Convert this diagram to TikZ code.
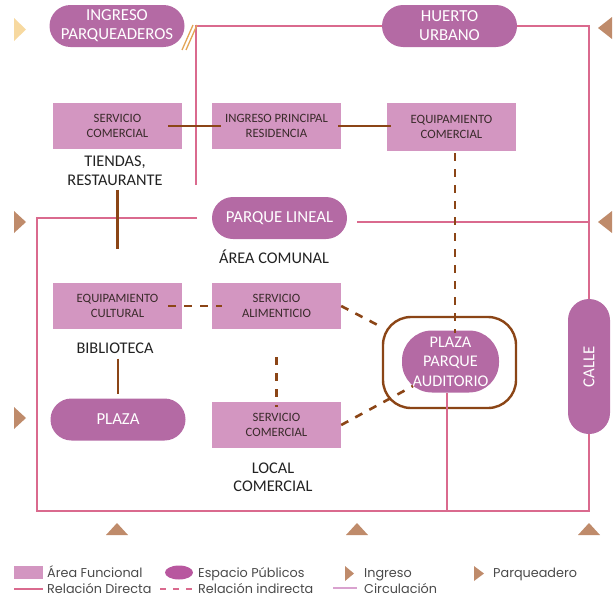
\documentclass[tikz,border=0pt]{standalone}
\usepackage{fontspec}
\setmainfont{Carlito}
\newfontfamily\legfont{Poppins}
\usetikzlibrary{calc}
\definecolor{boxpink}{HTML}{D396C1}
\definecolor{cap}{HTML}{B46AA4}
\definecolor{legcap}{HTML}{B8579F}
\definecolor{circpink}{HTML}{DA6A8E}
\definecolor{rbrown}{HTML}{8B4516}
\definecolor{tan}{HTML}{BF8B6B}
\definecolor{ingyellow}{HTML}{F7D9A0}
\definecolor{slash}{HTML}{E2A555}
\definecolor{lilac}{HTML}{D9A2CF}
\definecolor{boxtext}{HTML}{3A2B2B}
\definecolor{lbltext}{HTML}{222222}
\definecolor{legtext}{HTML}{4A4A4A}
\begin{document}
\begin{tikzpicture}[x=1pt,y=-1pt,
  area/.style={rectangle, fill=boxpink, minimum width=129pt, minimum height=46pt, inner sep=0pt, align=center, text=boxtext, font=\fontsize{12.7}{15}\selectfont},
  esp/.style={rectangle, rounded corners=21pt, fill=cap, minimum width=135pt, minimum height=42pt, inner sep=0pt, align=center, text=white, font=\fontsize{16.8}{19}\selectfont},
  lbl/.style={align=center, inner sep=0pt, text=lbltext, font=\fontsize{16.3}{18.5}\selectfont},
  circ/.style={draw=circpink, line width=2pt},
  direct/.style={draw=rbrown, line width=2.6pt},
  indirect/.style={draw=rbrown, line width=2.6pt, dash pattern=on 8pt off 8pt},
  legtxt/.style={anchor=base west, inner sep=0pt, text=legtext, font=\legfont\fontsize{12.8}{14}\selectfont},
  tri/.style={fill=tan}
]
\useasboundingbox (0,0) rectangle (615,597);

% ---------- nodes ----------
\node[esp] (ingp) at (117,26) {INGRESO\\PARQUEADEROS};
\node[esp] (huerto) at (449.5,26) {HUERTO\\URBANO};
\node[esp] (plineal) at (279.5,218) {PARQUE LINEAL};
\node[esp] (plaza) at (118,419.5) {PLAZA};
\node[esp, minimum width=42pt, minimum height=135pt] (calle) at (589,366.5) {\rotatebox{90}{CALLE}};

\node[area] (sc1) at (117.5,126) {SERVICIO\\COMERCIAL};
\node[area] (ing) at (276.5,126) {INGRESO PRINCIPAL\\RESIDENCIA};
\node[area, minimum height=48pt] (eqc) at (451.5,127) {EQUIPAMIENTO\\COMERCIAL};
\node[area] (eqcul) at (117.5,306) {EQUIPAMIENTO\\CULTURAL};
\node[area] (sa) at (276.5,306) {SERVICIO\\ALIMENTICIO};
\node[area] (sc2) at (276.5,425) {SERVICIO\\COMERCIAL};

\node[lbl] (tiendas) at (115,171) {TIENDAS,\\RESTAURANTE};
\node[lbl] (acom) at (274,257) {ÁREA COMUNAL};
\node[lbl] (bib) at (115,348) {BIBLIOTECA};
\node[lbl] (local) at (273,477.5) {LOCAL\\COMERCIAL};

\node[draw=rbrown, line width=2.4pt, rounded corners=28pt, minimum width=133pt, minimum height=91pt, inner sep=0pt] (frame) at (449.5,362.5) {};
\node[rectangle, rounded corners=30pt, fill=cap, minimum width=97pt, minimum height=62pt, inner sep=0pt, align=center, text=white, font=\fontsize{16.3}{19.5}\selectfont] (ppa) at (450.5,361.5) {PLAZA\\PARQUE\\AUDITORIO};

% ---------- circulation ----------
\coordinate (c1) at (196,185);
\coordinate (c2) at (196,26);
\coordinate (c3) at (589,26);
\coordinate (l1) at (197,218);
\coordinate (l2) at (37,218);
\coordinate (l3) at (37,511);
\coordinate (l4) at (589,511);
\coordinate (l5) at (447,511);
\coordinate (r1) at (357,222);
\coordinate (r2) at (589,222);
\draw[circ] (c1) -- (c2) -- (huerto.west);
\draw[circ] (huerto.east) -- (c3) -- (calle.north);
\draw[circ] (l1) -- (l2) -- (l3) -- (l4) -- (calle.south);
\draw[circ] (l5) -- (l5 |- ppa.south);
\draw[circ] (r1) -- (r2);

% ---------- slashes ----------
\draw[slash, line width=1.3pt] (182,50) -- (193,25);
\draw[slash, line width=1.3pt] (186,50) -- (197,25);

% ---------- direct relations ----------
\draw[direct, shorten <=-14pt, shorten >=-9pt] (sc1.east) -- (ing.west);
\draw[direct, shorten <=-3pt, shorten >=-4pt] (ing.east) -- (ing.east -| eqc.west);
\draw[direct, shorten <=4pt, shorten >=34pt] (tiendas.south -| eqcul.north) -- (eqcul.north);
\draw[direct, shorten <=5pt, shorten >=4pt] (bib.south -| plaza.north) -- (plaza.north);

% ---------- indirect relations ----------
\draw[indirect, shorten <=2pt, shorten >=-3pt] ([xshift=3.5pt]eqc.south) -- ([xshift=3.5pt]eqc.south |- ppa.north);
\draw[indirect, shorten <=-14pt, shorten >=-10pt] (eqcul.east) -- (sa.west);
\draw[indirect] (sa.east) -- (frame);
\draw[indirect, shorten <=28pt, shorten >=-5pt] (sa.south) -- (sc2.north);
\coordinate (pe) at (413,386);
\draw[indirect] (sc2.east) -- (pe);

% ---------- entrance / parking markers ----------
\fill[ingyellow] (14,18) -- (26,29.5) -- (14,41) -- cycle;
\fill[tri] (14,211) -- (26,222) -- (14,233) -- cycle;
\fill[tri] (14,407) -- (26,418) -- (14,429) -- cycle;
\fill[tri] (612,17) -- (598,28) -- (612,39) -- cycle;
\fill[tri] (612,211) -- (598,222) -- (612,233) -- cycle;
\fill[tri] (106,535) -- (117,523) -- (128,535) -- cycle;
\fill[tri] (346,535) -- (357,523) -- (368,535) -- cycle;
\fill[tri] (578,535) -- (589,523) -- (600,535) -- cycle;

% ---------- legend ----------
\fill[boxpink] (14,566) rectangle (43,579);
\node[legtxt] (lg1) at (47,577) {Área Funcional};
\fill[legcap] (179,572.5) ellipse [x radius=14, y radius=7];
\node[legtxt] (lg2) at (198,577) {Espacio Públicos};
\fill[tri] (345,566) -- (354,573.5) -- (345,581) -- cycle;
\node[legtxt] (lg3) at (364,577) {Ingreso};
\fill[tri] (474,566) -- (484,573.5) -- (474,581) -- cycle;
\node[legtxt] (lg4) at (493,577) {Parqueadero};
\draw[circpink, line width=2pt] (14,588.5) -- (43,588.5);
\node[legtxt] (lg5) at (47,593) {Relación Directa};
\draw[circpink, line width=2pt, dash pattern=on 6pt off 7pt] (160,588.5) -- (193,588.5);
\node[legtxt] (lg6) at (198,593) {Relación indirecta};
\draw[lilac, line width=2pt] (333,588) -- (357,588);
\node[legtxt] (lg7) at (364,593) {Circulación};
\end{tikzpicture}
\end{document}
